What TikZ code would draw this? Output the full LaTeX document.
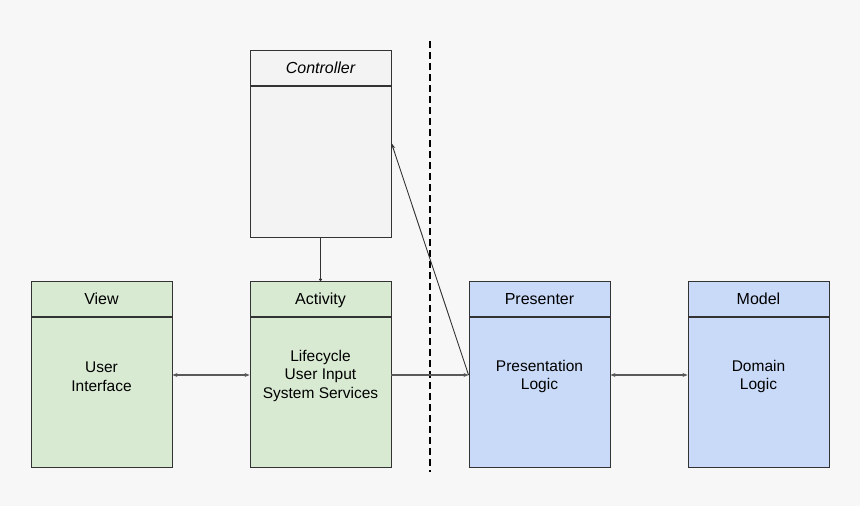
\documentclass[tikz,border=0pt]{standalone}
\usepackage{fontspec}
\setmainfont{Liberation Sans}
\usetikzlibrary{arrows.meta,calc}
\definecolor{bg}{HTML}{F7F7F7}
\definecolor{gfill}{HTML}{D9EAD3}
\definecolor{bfill}{HTML}{C9DAF8}
\definecolor{cfill}{HTML}{F3F3F3}
\definecolor{edge}{HTML}{333333}
\definecolor{conn}{HTML}{595959}
\begin{document}
\begin{tikzpicture}[x=1pt,y=-1pt,
  hdr/.style={draw=edge,line width=0.9pt,minimum width=141pt,minimum height=35pt,anchor=north,inner sep=0pt,text height=13pt,text depth=2pt,font=\fontsize{16}{19}\selectfont},
  bdy/.style={draw=edge,line width=0.9pt,minimum width=141pt,anchor=north,inner sep=0pt},
  txt/.style={align=center,font=\fontsize{15.5}{18.5}\selectfont,inner sep=0pt},
  conline/.style={draw=conn,line width=1.2pt},
  tipb/.style={-{Stealth[length=5pt,width=4pt]}},
  tipbb/.style={{Stealth[length=5pt,width=4pt]}-{Stealth[length=5pt,width=4pt]}}
]
\fill[bg] (0,0) rectangle (860,506);
\useasboundingbox (0,0) rectangle (860,506);

% Controller
\node[hdr,fill=cfill] (ctrlh) at (320.5,50) {\itshape Controller};
\node[bdy,fill=cfill,minimum height=151pt] (ctrlb) at (ctrlh.south) {};

% View
\node[hdr,fill=gfill] (viewh) at (101.5,281) {View};
\node[bdy,fill=gfill,minimum height=150pt] (viewb) at (viewh.south) {};
% Activity
\node[hdr,fill=gfill] (acth) at (320.5,281) {Activity};
\node[bdy,fill=gfill,minimum height=150pt] (actb) at (acth.south) {};
% Presenter
\node[hdr,fill=bfill] (presh) at (539.5,281) {Presenter};
\node[bdy,fill=bfill,minimum height=150pt] (presb) at (presh.south) {};
% Model
\node[hdr,fill=bfill] (modh) at (758.5,281) {Model};
\node[bdy,fill=bfill,minimum height=150pt] (modb) at (modh.south) {};

% body texts
\node[txt] (viewt) at (101.5,376.5) {User\\Interface};
\node[txt] (actt) at (320.5,375.5) {Lifecycle\\User Input\\System Services};
\node[txt] (prest) at (539.5,376.5) {Presentation\\Logic};
\node[txt] (modt) at (758.5,376.5) {Domain\\Logic};

\coordinate (row) at (0,375);
\coordinate (ctrlpt) at (0,143);

% dashed separator
\coordinate (dtop) at (430,41);
\coordinate (dbot) at (430,472);
\draw[black,line width=1.8pt,dash pattern=on 7pt off 4pt] (dtop) -- (dbot);

% connectors
\draw[conline,tipbb] (viewb.east |- row) -- (actb.west |- row);
\draw[conline,tipb] (actb.east |- row) -- (presb.west |- row);
\draw[conline,tipbb] (presb.east |- row) -- (modb.west |- row);
\draw[draw=edge,line width=0.9pt,-{Stealth[length=6pt,width=4pt]}] (presb.west |- row) -- (ctrlb.east |- ctrlpt);
\draw[draw=edge,line width=0.9pt,-{Circle[open,length=3pt]}] (ctrlb.south) -- (acth.north);
\end{tikzpicture}
\end{document}
